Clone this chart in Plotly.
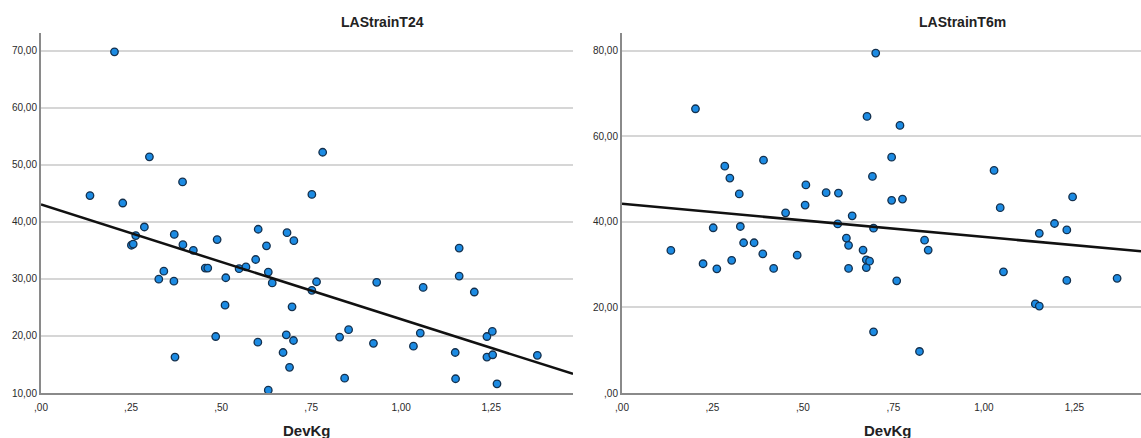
import numpy as np
import plotly.graph_objects as go

# Left panel: LAStrainT24 vs DevKg
t24_devkg = [0.136, 0.204, 0.227, 0.301, 0.393, 0.782, 0.752, 0.251, 0.256, 0.263,
             0.287, 0.327, 0.341, 0.369, 0.370, 0.372, 0.394, 0.423, 0.456, 0.463,
             0.485, 0.489, 0.511, 0.513, 0.550, 0.569, 0.596, 0.602, 0.603, 0.626,
             0.631, 0.631, 0.642, 0.672, 0.681, 0.683, 0.690, 0.697, 0.701, 0.702,
             0.752, 0.765, 0.829, 0.854, 0.843, 0.923, 0.932, 1.034, 1.053, 1.061,
             1.150, 1.151, 1.161, 1.161, 1.203, 1.238, 1.253, 1.238, 1.254, 1.266,
             1.378]
t24_strain = [44.6, 69.8, 43.3, 51.4, 47.0, 52.2, 44.8, 35.9, 36.1, 37.6,
              39.1, 29.95, 31.35, 29.6, 37.8, 16.3, 36.0, 35.0, 31.9, 31.9,
              19.9, 36.9, 25.4, 30.2, 31.8, 32.1, 33.4, 18.9, 38.7, 35.8,
              31.2, 10.5, 29.3, 17.1, 20.2, 38.1, 14.5, 25.1, 19.2, 36.7,
              28.0, 29.5, 19.8, 21.1, 12.6, 18.7, 29.4, 18.2, 20.5, 28.5,
              17.1, 12.5, 35.4, 30.5, 27.7, 19.9, 20.8, 16.3, 16.7, 11.6,
              16.6]

# Right panel: LAStrainT6m vs DevKg
t6m_devkg = [0.135, 0.203, 0.224, 0.252, 0.262, 0.284, 0.298, 0.303, 0.324, 0.327,
             0.336, 0.365, 0.389, 0.391, 0.419, 0.452, 0.484, 0.506, 0.508, 0.564,
             0.596, 0.598, 0.620, 0.626, 0.626, 0.636, 0.666, 0.675, 0.675, 0.677,
             0.684, 0.692, 0.695, 0.695, 0.701, 0.745, 0.745, 0.759, 0.768, 0.775,
             0.822, 0.836, 0.846, 1.028, 1.045, 1.054, 1.142, 1.153, 1.153, 1.195,
             1.229, 1.229, 1.245, 1.368]
t6m_strain = [33.3, 66.4, 30.2, 38.6, 29.0, 53.0, 50.2, 31.0, 46.5, 38.9,
              35.1, 35.1, 32.5, 54.4, 29.1, 42.1, 32.2, 43.9, 48.6, 46.8,
              39.5, 46.7, 36.2, 34.5, 29.1, 41.4, 33.4, 31.1, 29.3, 64.6,
              30.8, 50.6, 38.5, 14.3, 79.4, 55.1, 45.0, 26.2, 62.5, 45.3,
              9.7, 35.7, 33.4, 52.0, 43.3, 28.3, 20.8, 20.3, 37.3, 39.6,
              38.1, 26.3, 45.8, 26.8]

x_ticks = [0, 0.25, 0.5, 0.75, 1.0, 1.25]
x_ticktext = [",00", ",25", ",50", ",75", "1,00", "1,25"]
left_yticks = [10, 20, 30, 40, 50, 60, 70]
left_ytext = ["10,00", "20,00", "30,00", "40,00", "50,00", "60,00", "70,00"]
right_yticks = [0, 20, 40, 60, 80]
right_ytext = [",00", "20,00", "40,00", "60,00", "80,00"]

titles = ["LAStrainT24", "LAStrainT6m"]
x_title = "DevKg"

W, H = 1141, 438
left_xrange = [0, 1.477]
right_xrange = [0, 1.434]
left_yrange = [10, 73.1]
right_yrange = [0, 84.1]

MARKER = dict(size=7.5, color="#1c8be3", line=dict(color="#14304d", width=1.3))
FONT = "Liberation Sans, Arial, sans-serif"

fig = go.Figure()

def add_panel(xs, ys, xr, xa, ya):
    fig.add_trace(go.Scatter(x=xs, y=ys, mode="markers", marker=MARKER,
                             xaxis=xa, yaxis=ya, showlegend=False, cliponaxis=False))
    b, a = np.polyfit(np.array(xs), np.array(ys), 1)
    lx = np.array(xr)
    fig.add_trace(go.Scatter(x=lx, y=a + b * lx, mode="lines",
                             line=dict(color="#111111", width=2.5),
                             xaxis=xa, yaxis=ya, showlegend=False))

add_panel(t24_devkg, t24_strain, left_xrange, "x", "y")
add_panel(t6m_devkg, t6m_strain, right_xrange, "x2", "y2")

ydom = [(H - 393) / H, (H - 33) / H]
axis_common = dict(showline=True, linecolor="#8a8a8a", linewidth=2, ticks="",
                   tickfont=dict(family=FONT, size=10, color="#2a2a2a"),
                   zeroline=False, automargin=False)

fig.update_layout(
    width=W, height=H,
    margin=dict(l=0, r=0, t=0, b=0),
    paper_bgcolor="white", plot_bgcolor="white",
    xaxis=dict(domain=[41 / W, 573 / W], range=left_xrange, tickvals=x_ticks,
               ticktext=x_ticktext, showgrid=False, anchor="y",
               ticklabelstandoff=4, **axis_common),
    yaxis=dict(domain=ydom, range=left_yrange, tickvals=left_yticks,
               ticktext=left_ytext, showgrid=True, gridcolor="#d6d6d6",
               gridwidth=2, anchor="x", **axis_common),
    xaxis2=dict(domain=[622 / W, 1.0], range=right_xrange, tickvals=x_ticks,
                ticktext=x_ticktext, showgrid=False, anchor="y2",
                ticklabelstandoff=4, **axis_common),
    yaxis2=dict(domain=ydom, range=right_yrange, tickvals=right_yticks,
                ticktext=right_ytext, showgrid=True, gridcolor="#d6d6d6",
                gridwidth=2, anchor="x2", **axis_common),
)

for txt, xp in zip(titles, [382, 962]):
    fig.add_annotation(text="<b>%s</b>" % txt, x=xp / W, y=(H - 22) / H,
                       xref="paper", yref="paper", showarrow=False,
                       xanchor="center", yanchor="middle",
                       font=dict(family=FONT, size=14, color="#222222"))
for xp in [307, 888]:
    fig.add_annotation(text="<b>%s</b>" % x_title, x=xp / W, y=(H - 430) / H,
                       xref="paper", yref="paper", showarrow=False,
                       xanchor="center", yanchor="middle",
                       font=dict(family=FONT, size=15, color="#222222"))

fig.write_html("out.html")
